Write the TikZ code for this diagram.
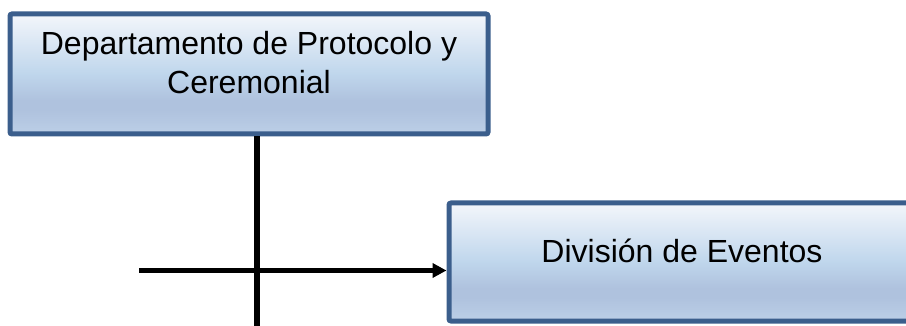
\documentclass[tikz,border=0pt]{standalone}
\usepackage{fontspec}
\setmainfont{Liberation Sans}
\usetikzlibrary{arrows.meta,calc,shadows}
\definecolor{boxborder}{HTML}{3B5E8C}
\definecolor{gtop}{HTML}{F3F6FB}
\definecolor{gmid}{HTML}{BFD6EC}
\definecolor{gband}{HTML}{AFC2DE}
\definecolor{gbot}{HTML}{BCCFE7}
\pgfdeclareverticalshading{boxshade}{100bp}{color(0bp)=(gbot); color(25bp)=(gbot); color(35bp)=(gband); color(39bp)=(gband); color(50bp)=(gmid); color(75bp)=(gtop); color(100bp)=(gtop)}
\tikzset{
  orgbox/.style={draw=boxborder, line width=5pt, rounded corners=2pt, shading=boxshade,
    inner sep=0pt, drop shadow={opacity=0.15, shadow xshift=1pt, shadow yshift=-1pt}},
  boxtext/.style={font=\fontsize{32}{39}\selectfont, align=center, inner sep=0pt, text=black},
  conn/.style={line width=5.3pt, black}
}
\begin{document}
\begin{tikzpicture}[x=1pt,y=-1pt]
\useasboundingbox (0,0) rectangle (906,326);
\node[orgbox, minimum width=478pt, minimum height=120pt] (dep) at (249,74) {};
\node[orgbox, minimum width=466pt, minimum height=118pt] (div) at (682,262) {};
\node[boxtext, anchor=base] (deptext) at (249,55) {Departamento de Protocolo y};
\node[boxtext, anchor=base] (deptext2) at (249,94) {Ceremonial};
\node[boxtext, anchor=base] (divtext) at (682,262) {División de Eventos};
\coordinate (vend) at (257,330);
\coordinate (hstart) at (139,270.5);
\draw[conn] (dep.south -| vend) -- (vend);
\draw[conn, -{Triangle[length=14pt,width=14pt]}] (hstart) -- (hstart -| div.west);
\end{tikzpicture}
\end{document}
